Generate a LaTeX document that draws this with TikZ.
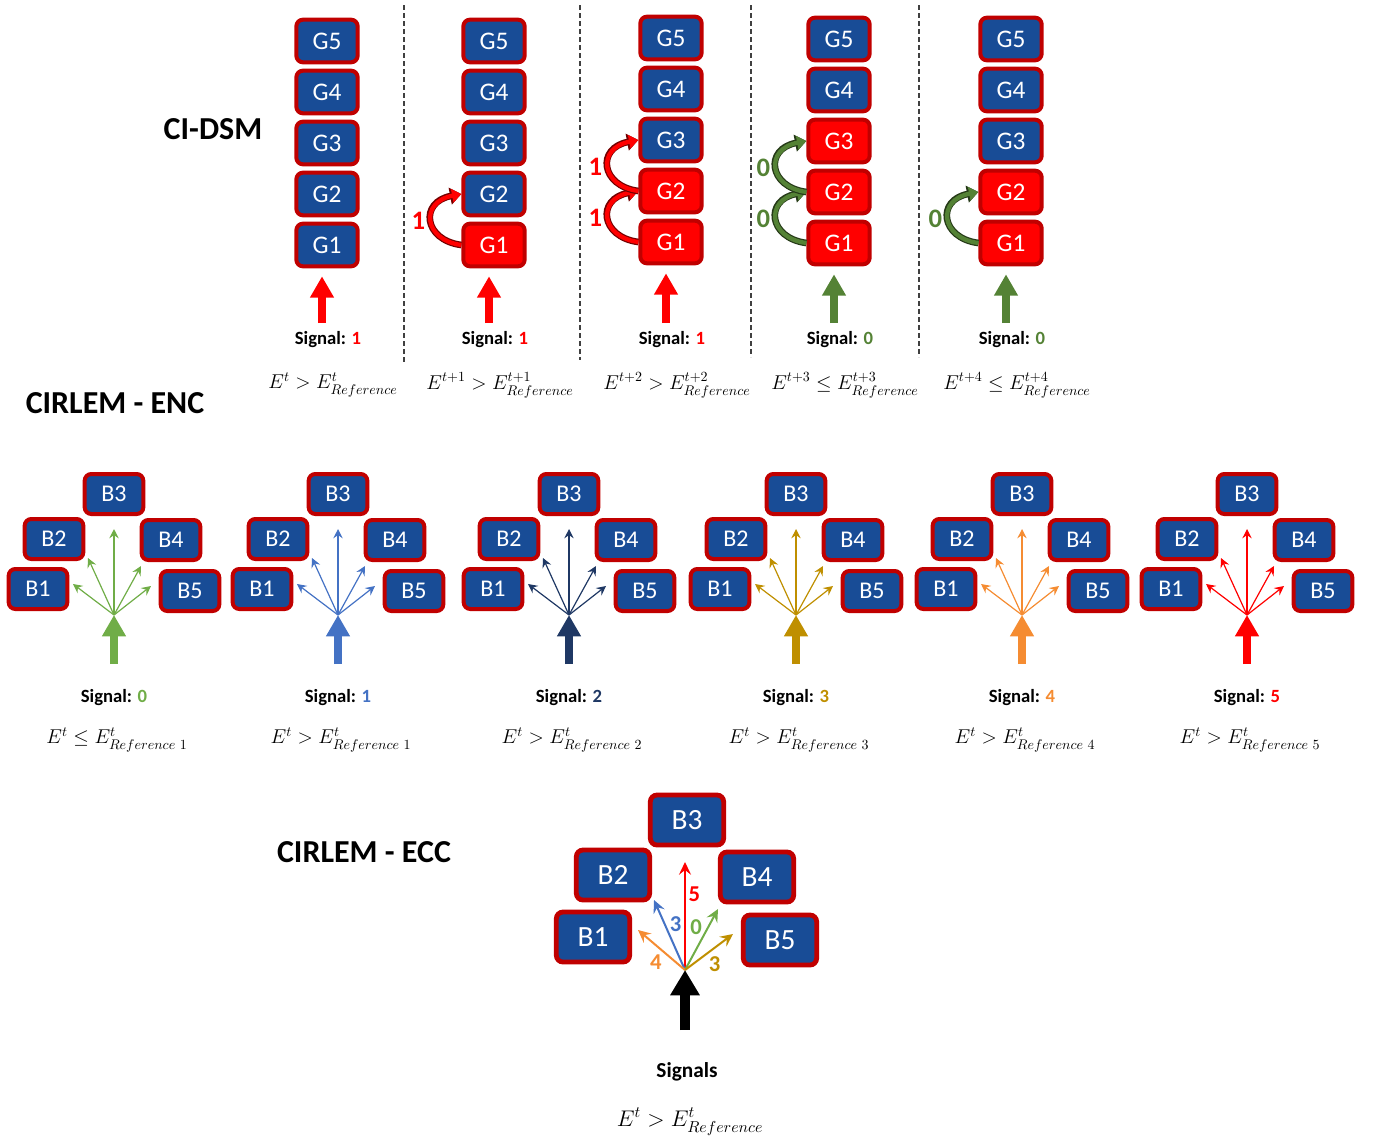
\RequirePackage{fix-cm}
\documentclass[tikz,border=0pt]{standalone}
\usepackage{amsmath}
\usepackage{fontspec}
\setmainfont{Carlito}
\usetikzlibrary{positioning,calc,arrows.meta}

\definecolor{boxblue}{RGB}{24,76,150}
\definecolor{boxred}{RGB}{192,0,0}
\definecolor{sigred}{RGB}{255,0,0}
\definecolor{sgreen}{RGB}{84,130,53}
\definecolor{mgreen}{RGB}{112,173,71}
\definecolor{mblue}{RGB}{68,114,196}
\definecolor{mnavy}{RGB}{31,56,100}
\definecolor{mgold}{RGB}{191,143,0}
\definecolor{morange}{RGB}{245,140,50}

\tikzset{
  gbox/.style={draw=boxred, fill=boxblue, line width=3pt, rounded corners=5pt,
    minimum width=46pt, minimum height=32pt, inner sep=0pt, text=white,
    font=\fontsize{19}{21}\selectfont},
  gon/.style={gbox, fill=sigred},
  bbox/.style={gbox, minimum width=44pt, minimum height=30pt,
    font=\fontsize{18}{20}\selectfont},
  cbox/.style={gbox, line width=3.6pt, minimum width=55pt, minimum height=37.5pt,
    font=\fontsize{22}{24}\selectfont},
  bigarrow/.style={line width=6pt, -{Triangle[width=17pt,length=16pt]}},
  fan/.style={draw=#1, line width=0.9pt, -{Stealth[length=7pt,width=7pt,inset=2.5pt]}},
  fanb/.style={draw=#1, line width=1.5pt, -{Stealth[length=9.5pt,width=9pt,inset=3.5pt]}},
  curvedge/.style={draw=#1, line width=3.2pt, -{Triangle[width=10pt,length=7pt]},
    preaction={draw=#1!45!black, line width=5pt, -{Triangle[width=12.5pt,length=8.5pt]}}},
  arrlabel/.style={font=\bfseries\fontsize{20}{22}\selectfont, inner sep=1pt},
  eccnum/.style={font=\bfseries\fontsize{17}{19}\selectfont, inner sep=1pt},
  sigtext/.style={font=\bfseries\fontsize{14}{16}\selectfont},
  eqtext/.style={font=\fontsize{15}{17}\selectfont},
  title/.style={font=\bfseries\fontsize{24}{28}\selectfont},
  sep/.style={draw=black!75, line width=1pt, dash pattern=on 3.5pt off 2.5pt},
}

\begin{document}
\begin{tikzpicture}[x=0.75pt,y=-0.75pt]
  \useasboundingbox (0,0) rectangle (1374,1142);

  % titles
  \node[title] (cidsm) at (213,129) {CI-DSM};
  \node[title] (enc)   at (115,403) {CIRLEM - ENC};
  \node[title] (ecc)   at (364,852) {CIRLEM - ECC};

  % CI-DSM: five time steps
  \foreach \x/\y in {404/362, 580/360, 751/357, 919/357}
    \draw[sep] (\x,5) -- (\x,\y);
  \foreach \c/\x/\y/\nred/\sig/\scol/\tsup/\cmp in
    {1/327/245/0/1/sigred/t/>,
     2/494/245/1/1/sigred/t+1/>,
     3/671/242/2/1/sigred/t+2/>,
     4/839/243/3/0/sgreen/t+3/\leq,
     5/1011/243/2/0/sgreen/t+4/\leq}{
    \foreach \k in {1,...,5}{
      \ifnum\k>\nred \def\st{gbox}\else\def\st{gon}\fi
      \node[\st] (g\c-\k) at (\x,{\y-51*(\k-1)}) {G\k};
    }
    \coordinate (sb\c) at ({\x-5},323);
    \draw[bigarrow, \scol, shorten >=6pt] (sb\c) -- (sb\c |- g\c-1.south);
    \node[sigtext] (s\c) at ({\x+1},340) {Signal: \textcolor{\scol}{\sig}};
    \node[eqtext]  (e\c) at ({\x+6},385) {$E^{\tsup} \cmp E^{\tsup}_{Reference}$};
  }
  \foreach \a/\b/\ccol/\lab in
    {g2-1/g2-2/sigred/1, g3-1/g3-2/sigred/1, g3-2/g3-3/sigred/1,
     g4-1/g4-2/sgreen/0, g4-2/g4-3/sgreen/0, g5-1/g5-2/sgreen/0}
    \draw[curvedge=\ccol] (\a.west) .. controls +(-38,-5) and +(-42,8) .. (\b.west)
      node[midway, left=2pt, arrlabel, text=\ccol] {\lab};

  % CIRLEM - ENC: one signal per level
  \foreach \i/\x/\col/\sig/\cmp/\rn in
    {1/114/mgreen/0/\leq/1, 2/338/mblue/1/>/1, 3/569/mnavy/2/>/2,
     4/796/mgold/3/>/3, 5/1022/morange/4/>/4, 6/1247/sigred/5/>/5}{
    \node[bbox] (b\i-3) at (\x,494)        {B3};
    \node[bbox] (b\i-2) at ({\x-60},539)   {B2};
    \node[bbox] (b\i-4) at ({\x+57},540)   {B4};
    \node[bbox] (b\i-1) at ({\x-76},589)   {B1};
    \node[bbox] (b\i-5) at ({\x+76},591)   {B5};
    \coordinate (f\i) at (\x,615);
    \foreach \k/\dx/\dy in {1/-41/-31, 2/-26/-57, 3/0/-86, 4/27/-49, 5/37/-29}{
      \coordinate (t\i-\k) at ($(f\i)+(\dx,\dy)$);
      \draw[fan=\col] (f\i) -- (t\i-\k);
    }
    \coordinate (eb\i) at (\x,664);
    \draw[bigarrow, \col] (eb\i) -- (f\i);
    \node[sigtext] (es\i) at (\x,698) {Signal: \textcolor{\col}{\sig}};
    \node[eqtext]  (ee\i) at ({\x+3},740) {$E^{t} \cmp E^{t}_{Reference\ \rn}$};
  }

  % CIRLEM - ECC: all signals at once
  \node[cbox] (c3) at (687,820) {B3};
  \node[cbox] (c2) at (613,875) {B2};
  \node[cbox] (c4) at (757,877) {B4};
  \node[cbox] (c1) at (593,937) {B1};
  \node[cbox] (c5) at (780,940) {B5};
  \coordinate (fc)   at (685,970);
  \coordinate (tc5)  at (685,862);
  \coordinate (tc3b) at (654,900);
  \coordinate (tc4)  at (638,930);
  \coordinate (tc0)  at (718,909);
  \coordinate (tc3g) at (733,934);
  \draw[fanb=sigred]  (fc) -- (tc5)  node[pos=0.7, right=1pt, eccnum, text=sigred] {5};
  \draw[fanb=mblue]   (fc) -- (tc3b) node[pos=0.65, right=2pt, eccnum, text=mblue] {3};
  \draw[fanb=mgreen]  (fc) -- (tc0)  node[pos=0.7, left=3pt, eccnum, text=mgreen] {0};
  \draw[fanb=morange] (fc) -- (tc4)  node[pos=0.45, below left=0pt, eccnum, text=morange] {4};
  \draw[fanb=mgold]   (fc) -- (tc3g) node[pos=0.45, below right=0pt, eccnum, text=mgold] {3};
  \coordinate (cb) at (685,1030);
  \draw[line width=7.5pt, -{Triangle[width=21pt,length=19pt]}] (cb) -- (fc);
  \node[sigtext, font=\bfseries\fontsize{16}{18}\selectfont] (sigs) at (687,1072) {Signals};
  \node[eqtext, font=\fontsize{17}{19}\selectfont] (eqc) at (690,1122) {$E^{t} > E^{t}_{Reference}$};
\end{tikzpicture}
\end{document}
